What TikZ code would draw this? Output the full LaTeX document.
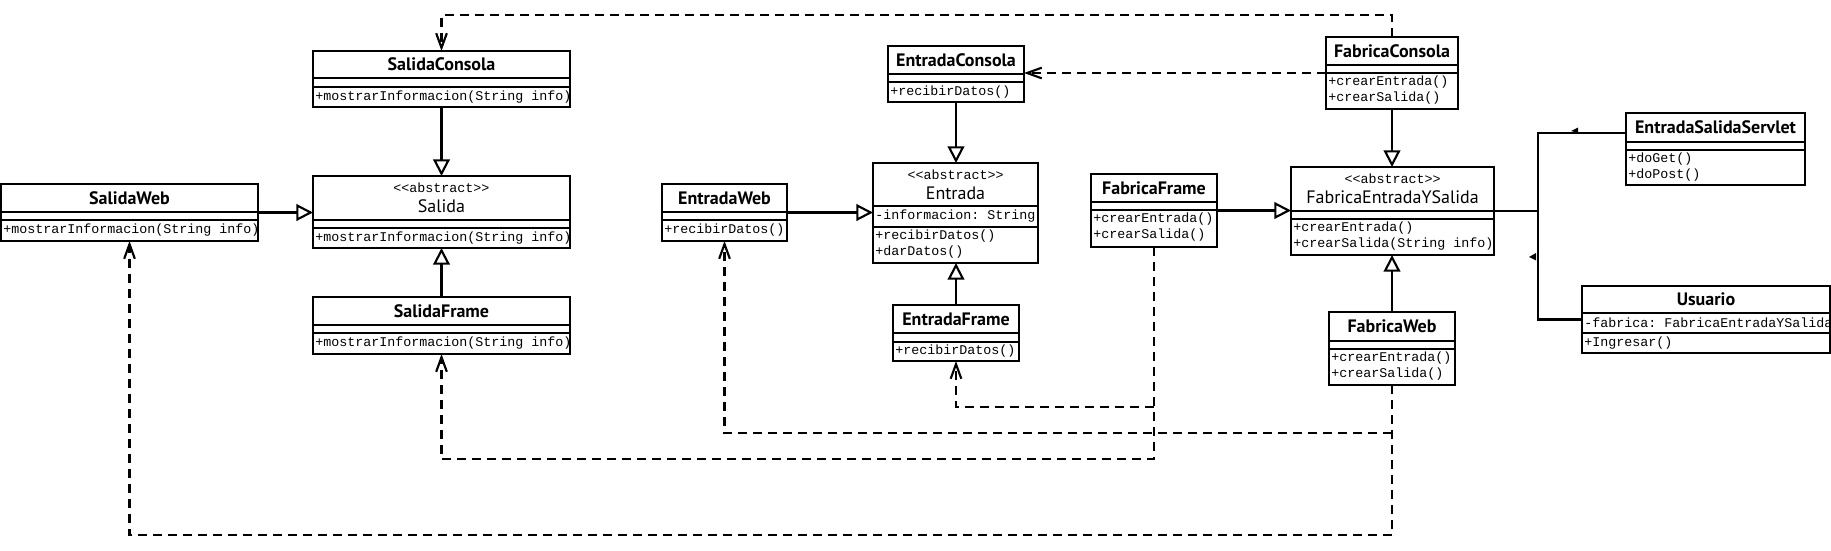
\documentclass[tikz,border=0pt]{standalone}
\usepackage{fontspec}
\setmainfont{PT Sans}
\setmonofont{Liberation Mono}
\usetikzlibrary{arrows.meta,fit}
\tikzset{
 frame/.style={draw, line width=1.6pt, inner sep=0pt, outer sep=0pt, fill=white},
 sep/.style={line width=1.6pt},
 ttl/.style={font=\fontsize{13.5}{16}\selectfont\bfseries, inner sep=0pt},
 nm/.style={font=\fontsize{13.5}{16}\selectfont, inner sep=0pt},
 mem/.style={font=\ttfamily\fontsize{10}{12}\selectfont, inner sep=0pt, anchor=west},
 gen/.style={line width=1.6pt, -{Triangle[open, length=12.5pt, width=12.5pt, fill=white]}},
 dep/.style={line width=1.6pt, dash pattern=on 6.75pt off 4.5pt, -{Straight Barb[length=11pt, width=8pt]}},
 assoc/.style={line width=1.6pt},
}
\newcommand{\umlbox}[8]{%
 \node[frame, fit={(#2,#3) (#4,#5)}] (#1) {};
 \draw[sep] (#2,#6) -- (#4,#6);
 \draw[sep] (#2,#7) -- (#4,#7);
 \node[ttl] (#1-title) at ({(#2+#4)/2},{(#3+#6)/2}) {#8};
}
\newcommand{\umlabs}[8]{%
 \node[frame, fit={(#2,#3) (#4,#5)}] (#1) {};
 \draw[sep] (#2,#6) -- (#4,#6);
 \draw[sep] (#2,#7) -- (#4,#7);
 \node[mem, anchor=center] (#1-st) at ({(#2+#4)/2},{#3+11.5}) {<{}<abstract>{}>};
 \node[nm] (#1-name) at ({(#2+#4)/2},{#3+30}) {#8};
}
\begin{document}
\begin{tikzpicture}[x=0.75pt, y=-0.75pt]
\path[use as bounding box, fill=white] (0,0) rectangle (1831,550);

\umlbox{SalidaConsola}{313}{51}{570}{107}{78}{87}{SalidaConsola}
\node[mem] (sc-m1) at (315,97) {+mostrarInformacion(String info)};
\umlabs{Salida}{313}{176}{570}{248}{220}{228}{Salida}
\node[mem] (sa-m1) at (315,238) {+mostrarInformacion(String info)};
\umlbox{SalidaWeb}{1}{184}{258}{241}{212}{220}{SalidaWeb}
\node[mem] (sw-m1) at (3,230.5) {+mostrarInformacion(String info)};
\umlbox{SalidaFrame}{313}{297}{570}{354}{325}{333}{SalidaFrame}
\node[mem] (sf-m1) at (315,343.5) {+mostrarInformacion(String info)};
\umlbox{EntradaConsola}{888}{46}{1024}{102}{74}{82}{EntradaConsola}
\node[mem] (ec-m1) at (890,92) {+recibirDatos()};
\umlabs{Entrada}{873}{163}{1038}{263}{206}{227}{Entrada}
\node[mem] (en-a1) at (875,216.5) {-informacion: String};
\node[mem] (en-m1) at (875,236.5) {+recibirDatos()};
\node[mem] (en-m2) at (875,252.5) {+darDatos()};
\umlbox{EntradaWeb}{662}{184}{787}{241}{212}{220}{EntradaWeb}
\node[mem] (ew-m1) at (664,230.5) {+recibirDatos()};
\umlbox{EntradaFrame}{893}{305}{1019}{361}{333}{342}{EntradaFrame}
\node[mem] (ef-m1) at (895,351.5) {+recibirDatos()};
\umlbox{FabricaFrame}{1091}{174}{1217}{247}{202}{210}{FabricaFrame}
\node[mem] (ff-m1) at (1093,219.5) {+crearEntrada()};
\node[mem] (ff-m2) at (1093,235.5) {+crearSalida()};
\umlbox{FabricaConsola}{1326}{37}{1458}{109}{65}{73}{FabricaConsola}
\node[mem] (fc-m1) at (1328,82.5) {+crearEntrada()};
\node[mem] (fc-m2) at (1328,98.5) {+crearSalida()};
\umlabs{FEYS}{1291}{167}{1494}{255}{211}{219}{FabricaEntradaYSalida}
\node[mem] (fe-m1) at (1293,228.5) {+crearEntrada()};
\node[mem] (fe-m2) at (1293,244.5) {+crearSalida(String info)};
\umlbox{FabricaWeb}{1329}{312}{1455}{385}{341}{349}{FabricaWeb}
\node[mem] (fw-m1) at (1331,358.5) {+crearEntrada()};
\node[mem] (fw-m2) at (1331,374.5) {+crearSalida()};
\umlbox{Servlet}{1626}{113}{1805}{185}{142}{150}{EntradaSalidaServlet}
\node[mem] (sv-m1) at (1628,159.5) {+doGet()};
\node[mem] (sv-m2) at (1628,175.5) {+doPost()};
\umlbox{Usuario}{1582}{286}{1830}{353}{313}{333}{Usuario}
\node[mem] (us-a1) at (1584,323) {-fabrica: FabricaEntradaYSalida};
\node[mem] (us-m1) at (1584,343) {+Ingresar()};

% generalizations
\draw[gen] (SalidaConsola.south) -- (Salida.north);
\draw[gen] (SalidaFrame.north) -- (Salida.south);
\draw[gen] (SalidaWeb.east) -- (SalidaWeb.east -| Salida.west);
\draw[gen] (EntradaConsola.south) -- (EntradaConsola.south |- Entrada.north);
\draw[gen] (EntradaFrame.north) -- (EntradaFrame.north |- Entrada.south);
\draw[gen] (EntradaWeb.east) -- (EntradaWeb.east -| Entrada.west);
\draw[gen] (FabricaConsola.south) -- (FabricaConsola.south |- FEYS.north);
\draw[gen] (FabricaWeb.north) -- (FabricaWeb.north |- FEYS.south);
\draw[gen] (FabricaFrame.east) -- (FabricaFrame.east -| FEYS.west);

% dependencies
\coordinate (topc) at (FabricaConsola.north |- 0,15);
\draw[dep] (FabricaConsola.north) -- (topc) -| (SalidaConsola.north);
\draw[dep] (FabricaConsola.west) -- (FabricaConsola.west -| EntradaConsola.east);
\coordinate (ffa) at (FabricaFrame.south |- 0,407);
\coordinate (ffb) at (FabricaFrame.south |- 0,459);
\draw[dep] (FabricaFrame.south) -- (ffb) -| (SalidaFrame.south);
\draw[dep] (ffa) -| (EntradaFrame.south);
\coordinate (fwa) at (FabricaWeb.south |- 0,433);
\coordinate (fwb) at (FabricaWeb.south |- 0,535);
\draw[dep] (FabricaWeb.south) -- (fwb) -| (SalidaWeb.south);
\draw[dep] (fwa) -| (EntradaWeb.south);

% associations
\coordinate (jn) at (FEYS.east -| 1538,0);
\coordinate (svp) at (Servlet.west |- 0,133);
\draw[assoc] (FEYS.east) -- (jn);
\draw[assoc] (svp) -| (jn);
\draw[assoc] (Usuario.west) -| (jn);
\fill (1571,131) -- (1578,127.5) -- (1578,133) -- cycle;
\fill (1529,257) -- (1536,253) -- (1536,260.5) -- cycle;
\end{tikzpicture}
\end{document}
